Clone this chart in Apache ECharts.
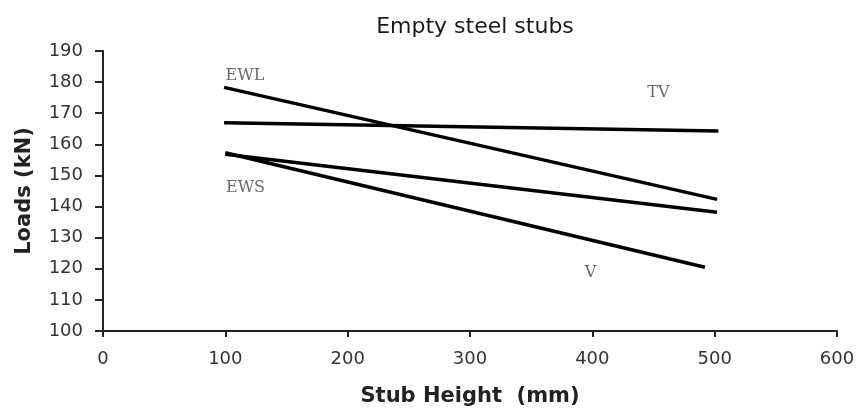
<!DOCTYPE html>
<html>
<head>
<meta charset="utf-8">
<script src="https://cdn.jsdelivr.net/npm/echarts@6/dist/echarts.min.js"></script>
<style>html,body{margin:0;padding:0;background:#fff;}#c{width:859px;height:412px;}</style>
</head>
<body>
<div id="c"></div>
<script>
// Data
const titleText = 'Empty steel stubs';
const xName = 'Stub Height  (mm)';
const yName = 'Loads (kN)';
const seriesNames = ['EWL', 'TV', 'EWS', 'V'];
const ewlX = [99, 502];
const ewlY = [178.3, 142.3];
const tvX = [99, 503];
const tvY = [166.9, 164.3];
const ewsX = [100, 502];
const ewsY = [156.8, 138.2];
const vX = [100, 492];
const vY = [157.3, 120.5];
// line tag labels (anchor in data units)
const tagNames = ['EWL', 'TV', 'EWS', 'V'];
const tagX = [116, 454, 116.5, 398.5];
const tagY = [182.1, 176.4, 146.1, 118.6];

const xsList = [ewlX, tvX, ewsX, vX];
const ysList = [ewlY, tvY, ewsY, vY];

const lineSeries = seriesNames.map((n, i) => ({
  name: n,
  type: 'line',
  data: xsList[i].map((x, j) => [x, ysList[i][j]]),
  showSymbol: false,
  lineStyle: { color: '#000', width: 3.5 },
  silent: true
}));

const tagSeries = {
  type: 'scatter',
  symbolSize: 0,
  data: tagNames.map((n, i) => ({ value: [tagX[i], tagY[i]], name: n })),
  label: {
    show: true,
    position: 'inside',
    formatter: p => p.name,
    fontFamily: 'DejaVu Serif',
    fontSize: 16,
    color: '#444'
  },
  silent: true
};

const chart = echarts.init(document.getElementById('c'));
chart.setOption({
  animation: false,
  backgroundColor: '#fff',
  title: {
    text: titleText,
    left: 470, top: 11, textAlign: 'center',
    textStyle: { fontFamily: 'DejaVu Sans', fontSize: 22, fontWeight: 'normal', color: '#1a1a1a' }
  },
  grid: { left: 103, right: 22, top: 51, bottom: 76 },
  xAxis: {
    type: 'value', min: 0, max: 600, interval: 100,
    name: xName, nameLocation: 'middle', nameGap: 55,
    nameTextStyle: { fontFamily: 'DejaVu Sans', fontSize: 21, fontWeight: 'bold', color: '#222' },
    axisLine: { lineStyle: { color: '#222', width: 2 } },
    axisTick: { show: true, length: 6, lineStyle: { color: '#222', width: 2 } },
    axisLabel: { fontFamily: 'DejaVu Sans', fontSize: 18, color: '#333', margin: 19 },
    splitLine: { show: false }
  },
  yAxis: {
    type: 'value', min: 100, max: 190, interval: 10,
    name: yName, nameLocation: 'middle', nameGap: 68, nameRotate: 90,
    nameTextStyle: { fontFamily: 'DejaVu Sans', fontSize: 21, fontWeight: 'bold', color: '#222' },
    axisLine: { show: true, lineStyle: { color: '#222', width: 2 } },
    axisTick: { show: true, length: 8, lineStyle: { color: '#222', width: 2 } },
    axisLabel: { fontFamily: 'DejaVu Sans', fontSize: 18, color: '#333', margin: 20 },
    splitLine: { show: false }
  },
  series: lineSeries.concat([tagSeries])
});
</script>
</body>
</html>
